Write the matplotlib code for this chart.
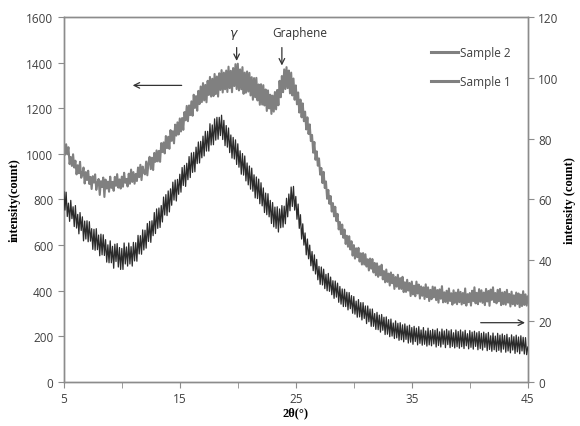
import numpy as np
import matplotlib
matplotlib.use("Agg")
import matplotlib.pyplot as plt
from matplotlib.lines import Line2D

# 2theta grid: 5.0 .. 45.0 step 0.1 (401 points)
two_theta = np.round(np.arange(5.0, 45.05, 0.1), 1)

# Sample 2 (upper grey curve, left axis, counts)
sample2 = [
    1050, 996, 1042, 998, 1029, 955, 986, 947, 998, 940,
    970, 910, 950, 915, 965, 895, 910, 940, 870, 920,
    885, 926, 868, 899, 846, 902, 874, 910, 842, 873,
    890, 820, 880, 855, 896, 811, 887, 848, 878, 834,
    900, 851, 877, 838, 899, 860, 911, 852, 888, 848,
    900, 856, 917, 873, 890, 857, 913, 869, 931, 877,
    920, 869, 912, 881, 940, 898, 952, 885, 944, 918,
    910, 966, 906, 962, 987, 933, 983, 929, 1004, 965,
    1015, 967, 1013, 965, 1047, 1008, 1050, 1002, 1078, 1025,
    1075, 1022, 1104, 1057, 1099, 1046, 1128, 1080, 1138, 1085,
    1155, 1098, 1157, 1105, 1183, 1147, 1210, 1143, 1212, 1170,
    1230, 1167, 1259, 1201, 1253, 1189, 1276, 1218, 1295, 1227,
    1310, 1234, 1302, 1226, 1320, 1258, 1337, 1251, 1329, 1253,
    1350, 1262, 1339, 1251, 1353, 1280, 1367, 1269, 1356, 1283,
    1365, 1271, 1382, 1288, 1364, 1270, 1376, 1297, 1393, 1284,
    1395, 1278, 1370, 1283, 1380, 1263, 1356, 1268, 1361, 1273,
    1355, 1256, 1336, 1237, 1332, 1248, 1333, 1234, 1304, 1215,
    1305, 1216, 1301, 1212, 1282, 1188, 1278, 1199, 1259, 1175,
    1255, 1185, 1271, 1195, 1280, 1213, 1320, 1248, 1341, 1270,
    1370, 1284, 1380, 1288, 1365, 1265, 1356, 1256, 1330, 1237,
    1300, 1217, 1269, 1181, 1238, 1160, 1221, 1143, 1185, 1107,
    1160, 1087, 1129, 1056, 1083, 1005, 1052, 974, 1011, 948,
    980, 909, 938, 872, 921, 850, 879, 803, 842, 781,
    815, 747, 784, 726, 768, 705, 737, 669, 701, 648,
    690, 632, 668, 605, 641, 593, 639, 581, 617, 554,
    600, 541, 586, 547, 588, 528, 564, 515, 565, 515,
    560, 506, 538, 489, 541, 497, 539, 480, 522, 468,
    520, 461, 507, 468, 514, 450, 486, 437, 493, 439,
    475, 423, 480, 433, 470, 408, 460, 418, 470, 408,
    455, 408, 461, 394, 437, 395, 448, 401, 434, 377,
    440, 384, 422, 376, 440, 388, 427, 366, 419, 378,
    415, 364, 428, 372, 415, 355, 404, 363, 418, 371,
    415, 359, 403, 348, 406, 365, 420, 349, 393, 351,
    400, 345, 410, 355, 389, 339, 402, 347, 392, 341,
    405, 350, 395, 340, 390, 345, 410, 335, 385, 350,
    390, 335, 400, 355, 415, 345, 391, 341, 407, 352,
    402, 347, 392, 337, 408, 353, 399, 334, 405, 360,
    415, 350, 390, 345, 404, 354, 408, 337, 392, 341,
    395, 339, 404, 348, 386, 331, 396, 341, 380, 334,
    392, 342, 388, 328, 383, 333, 398, 338, 384, 335,
    375,
]

# Sample 1 (lower dark curve, right axis, counts)
sample1 = [
    62.5, 56.5, 62.4, 54.4, 58.8, 52.8, 59.7, 53.7, 57.6, 51.1,
    58.0, 50.6, 55.1, 48.7, 55.7, 49.8, 54.3, 46.4, 52.9, 47.0,
    53.0, 46.1, 52.7, 46.3, 50.4, 43.6, 50.2, 43.3, 50.4, 43.5,
    48.3, 41.5, 48.6, 41.8, 48.4, 41.6, 46.8, 39.4, 45.1, 39.2,
    46.4, 39.2, 44.6, 37.4, 45.3, 39.6, 45.5, 37.8, 44.2, 37.0,
    43.9, 37.0, 45.7, 38.8, 44.4, 38.1, 45.7, 38.8, 44.5, 38.1,
    45.9, 39.8, 45.8, 39.7, 48.2, 42.1, 48.1, 42.0, 50.0, 43.4,
    49.9, 44.0, 52.1, 46.2, 52.8, 45.9, 53.0, 48.1, 55.7, 48.8,
    56.9, 50.5, 57.2, 50.8, 58.0, 52.6, 60.8, 54.9, 61.6, 54.7,
    62.8, 55.9, 63.5, 58.1, 65.7, 59.8, 66.4, 59.5, 66.6, 61.7,
    68.3, 62.4, 70.5, 64.6, 71.2, 64.3, 71.9, 66.5, 74.1, 67.2,
    75.3, 68.9, 75.5, 69.1, 77.2, 71.8, 78.9, 72.0, 79.1, 73.7,
    80.8, 74.3, 82.4, 75.9, 82.4, 75.9, 84.9, 77.9, 84.5, 78.0,
    86.5, 79.5, 87.0, 79.8, 87.0, 81.0, 87.7, 79.7, 86.0, 77.7,
    84.3, 77.2, 83.5, 75.4, 81.2, 73.6, 80.4, 73.3, 79.6, 71.5,
    78.3, 70.6, 76.0, 68.3, 75.1, 68.0, 74.3, 66.1, 72.0, 64.8,
    71.0, 63.4, 70.3, 62.7, 68.1, 60.5, 67.4, 60.3, 66.7, 58.6,
    65.5, 57.9, 63.8, 55.7, 62.1, 55.0, 61.9, 54.3, 59.7, 52.1,
    59.0, 51.0, 57.5, 50.5, 57.6, 49.3, 56.9, 50.7, 58.0, 50.9,
    57.8, 52.0, 60.4, 54.3, 61.8, 56.3, 64.1, 57.7, 64.3, 56.5,
    61.0, 53.5, 58.5, 50.5, 55.0, 47.0, 52.0, 45.0, 49.0, 41.8,
    47.0, 40.5, 45.0, 38.2, 42.9, 36.6, 41.8, 35.5, 40.3, 33.6,
    38.0, 32.1, 37.8, 31.9, 37.1, 30.7, 35.4, 30.0, 35.7, 29.8,
    34.5, 28.7, 33.3, 27.5, 33.2, 27.9, 32.5, 26.2, 31.4, 25.6,
    30.6, 24.8, 30.5, 24.8, 29.5, 23.7, 29.4, 24.1, 28.4, 22.6,
    28.1, 22.3, 26.6, 21.3, 27.1, 21.4, 26.1, 20.4, 26.1, 20.9,
    25.0, 19.2, 25.0, 19.8, 24.0, 18.3, 24.0, 18.3, 22.5, 17.3,
    22.9, 17.2, 22.0, 16.4, 22.2, 17.0, 21.3, 15.6, 21.4, 15.7,
    20.5, 14.9, 20.7, 15.1, 19.4, 14.3, 20.1, 14.5, 19.3, 13.7,
    19.5, 13.9, 18.8, 13.2, 19.1, 14.0, 18.4, 12.8, 18.7, 13.1,
    17.9, 12.4, 18.3, 13.3, 17.7, 12.2, 18.2, 12.7, 17.1, 12.1,
    17.9, 12.4, 16.8, 11.8, 17.7, 12.2, 16.9, 11.9, 17.3, 12.5,
    17.0, 11.5, 17.5, 12.0, 16.5, 11.5, 17.4, 12.4, 16.8, 11.3,
    17.3, 12.3, 16.8, 11.3, 17.2, 11.7, 16.2, 11.2, 17.1, 11.6,
    16.6, 11.1, 17.1, 11.6, 16.5, 11.0, 17.0, 11.9, 15.9, 10.9,
    16.9, 11.4, 16.4, 10.8, 16.7, 11.7, 16.2, 10.6, 16.6, 11.0,
    16.0, 10.5, 16.4, 11.4, 15.9, 10.3, 16.3, 10.7, 15.2, 10.1,
    16.1, 10.6, 15.1, 10.0, 16.0, 10.4, 15.4, 9.8, 15.8, 10.8,
    15.3, 9.8, 15.7, 10.2, 14.6, 9.6, 15.5, 10.5, 14.9, 9.4,
    15.4, 9.9, 14.8, 9.3, 15.2, 10.2, 14.7, 9.2, 14.6, 9.0,
    11.5,
]

x_major = [5, 15, 25, 35, 45]
x_minor = [10, 20, 30, 40]
left_ticks = [0, 200, 400, 600, 800, 1000, 1200, 1400, 1600]
right_ticks = [0, 20, 40, 60, 80, 100, 120]
legend_labels = ["Sample 2", "Sample 1"]

fig = plt.figure(figsize=(5.8, 4.27), dpi=100)
ax = fig.add_axes([0.110, 0.103, 0.800, 0.855])
ax2 = ax.twinx()

grey = "#808080"
spine_c = "#8c8c8c"
txt_c = "#404040"

ax.plot(two_theta, sample2, color=grey, lw=1.5, zorder=3)
ax2.plot(two_theta, sample1, color="#2b2b2b", lw=0.9, zorder=3)

ax.set_xlim(5, 45)
ax.set_ylim(0, 1600)
ax2.set_ylim(0, 120)
ax.set_xticks(x_major)
ax.set_xticks(x_minor, minor=True)
ax.set_yticks(left_ticks)
ax2.set_yticks(right_ticks)

for a in (ax, ax2):
    for s in a.spines.values():
        s.set_color(spine_c)
        s.set_linewidth(1.0)
    a.tick_params(which="both", direction="out", length=4, color=spine_c,
                  labelcolor=txt_c, labelsize=8.5)
    for lab in a.get_xticklabels() + a.get_yticklabels():
        lab.set_fontfamily(["Open Sans", "DejaVu Sans"])

ax.tick_params(axis="x", pad=3)

lab_font = {"family": ["Liberation Serif", "DejaVu Serif"], "weight": "bold", "size": 9}
ax.set_ylabel("intensity(count)", fontdict=lab_font, labelpad=4)
ax2.set_ylabel("intensity (count)", fontdict=lab_font, labelpad=4)
ax.set_xlabel("2θ(°)", fontdict=lab_font, labelpad=1)

# annotations
arrowprops = dict(arrowstyle="->", color="#333333", lw=0.9)
ax.annotate("", xy=(10.7, 1300), xytext=(15.4, 1300), arrowprops=arrowprops)
ax2.annotate("", xy=(45, 19.5), xytext=(40.7, 19.5), arrowprops=arrowprops,
             annotation_clip=False)
ax.annotate("", xy=(19.9, 1395), xytext=(19.9, 1478), arrowprops=arrowprops)
ax.annotate("", xy=(23.8, 1375), xytext=(23.8, 1478), arrowprops=arrowprops)
ax.text(19.55, 1530, "γ", ha="center", va="center", fontsize=9, style="italic",
        color="#333333", family=["DejaVu Sans"])
ax.text(25.3, 1532, "Graphene", ha="center", va="center", fontsize=8.5,
        color="#333333", family=["Open Sans", "DejaVu Sans"])

handles = [Line2D([], [], color=grey, lw=2.2), Line2D([], [], color=grey, lw=2.2)]
leg = ax.legend(handles, legend_labels, loc="upper left",
                bbox_to_anchor=(0.768, 0.95), frameon=False,
                handlelength=2.3, handletextpad=0.2, labelspacing=1.35,
                prop={"family": ["Open Sans", "DejaVu Sans"], "size": 8.5})
for t in leg.get_texts():
    t.set_color(txt_c)

fig.savefig("out.png", dpi=100)
